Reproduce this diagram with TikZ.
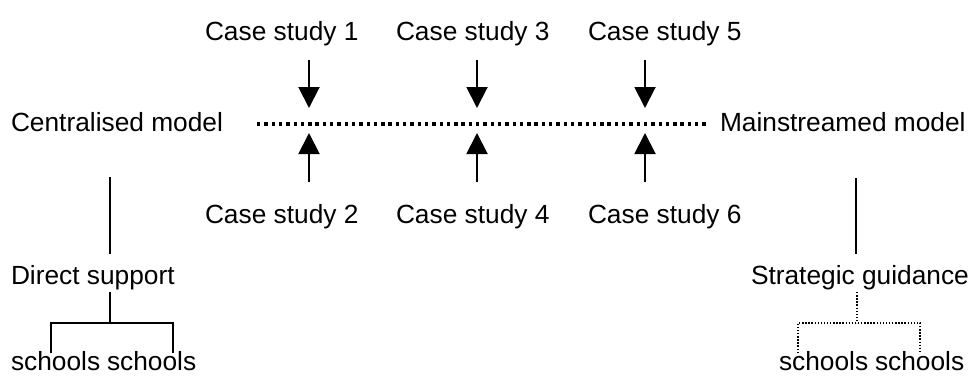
\documentclass[tikz,border=0pt]{standalone}
\usepackage{fontspec}
\setmainfont{Liberation Sans}
\usetikzlibrary{arrows.meta}
\begin{document}
\begin{tikzpicture}[x=1pt,y=-1pt,
  lbl/.style={anchor=base west,inner sep=0pt,outer sep=0pt,font=\fontsize{26.3}{30}\selectfont},
  casearrow/.style={line width=2pt,-{Triangle[length=21pt,width=21pt]}},
  solidline/.style={line width=1.8pt},
  thickdots/.style={line width=3.4pt,dash pattern=on 3.4pt off 3.9pt},
  thindots/.style={line width=1.4pt,dash pattern=on 1.4pt off 1.7pt}]
\useasboundingbox (0,0) rectangle (973,376);
% labels
\node[lbl] (cs1) at (205,40) {Case study 1};
\node[lbl] (cs3) at (396,40) {Case study 3};
\node[lbl] (cs5) at (588,40) {Case study 5};
\node[lbl] (cs2) at (205,223) {Case study 2};
\node[lbl] (cs4) at (396,223) {Case study 4};
\node[lbl] (cs6) at (588,223) {Case study 6};
\node[lbl] (cent) at (11,131) {Centralised model};
\node[lbl] (main) at (720,131) {Mainstreamed model};
\node[lbl] (direct) at (11,284) {Direct support};
\node[lbl] (strat) at (751,284) {Strategic guidance};
\node[lbl] (sa) at (11,370) {schools};
\node[lbl] (sb) at (107,370) {schools};
\node[lbl] (sc) at (779,370) {schools};
\node[lbl] (sd) at (875,370) {schools};
% coordinates
\coordinate (l0) at (257,124);
\coordinate (l1) at (708,124);
\foreach \n/\x in {1/309,3/477,5/645}{
  \coordinate (t\n) at (\x,60);
  \coordinate (h\n) at (\x,108);
}
\foreach \n/\x in {2/309,4/477,6/645}{
  \coordinate (t\n) at (\x,182);
  \coordinate (h\n) at (\x,133);
}
% dotted axis
\draw[thickdots] (l0) -- (l1);
% arrows
\foreach \n in {1,...,6}{\draw[casearrow] (t\n) -- (h\n);}
% left tree
\coordinate (ca) at (110,177);
\coordinate (cb) at (110,254);
\draw[solidline] (ca) -- (cb);
\coordinate (da) at (110,292);
\coordinate (db) at (110,323);
\coordinate (dl) at (51,323);
\coordinate (dr) at (173,323);
\coordinate (dlb) at (51,353);
\coordinate (drb) at (173,353);
\draw[solidline] (da) -- (db);
\draw[solidline] (dlb) -- (dl) -- (dr) -- (drb);
% right tree
\coordinate (ma) at (856,178);
\coordinate (mb) at (856,254);
\draw[solidline] (ma) -- (mb);
\coordinate (ga) at (857,292);
\coordinate (gb) at (857,323);
\coordinate (gl) at (798,323);
\coordinate (gr) at (920,323);
\coordinate (glb) at (798,353);
\coordinate (grb) at (920,353);
\draw[thindots] (ga) -- (gb);
\draw[thindots] (glb) -- (gl) -- (gr) -- (grb);
\end{tikzpicture}
\end{document}
